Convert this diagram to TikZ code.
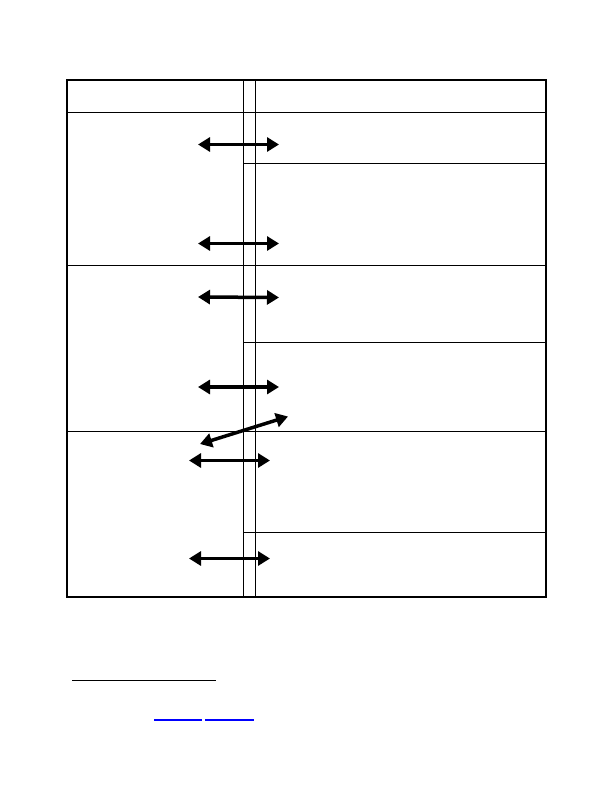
\documentclass[tikz,border=0pt]{standalone}
\usetikzlibrary{arrows.meta}
\begin{document}
\begin{tikzpicture}[x=1pt,y=-1pt,
  outer/.style={line width=1.6pt},
  rule/.style={line width=0.8pt},
  dblarrow/.style={line width=3.5pt,{Triangle[length=12pt,width=14pt]}-{Triangle[length=12pt,width=14pt]}},
  link/.style={line width=1.6pt,blue}]
\useasboundingbox[fill=white] (0,0) rectangle (612,792);
% inner rules
\draw[rule] (243,80) -- (243,597);
\draw[rule] (255,80) -- (255,597);
\draw[rule] (67,112.5) -- (546,112.5);
\draw[rule] (243,163.5) -- (546,163.5);
\draw[rule] (67,265) -- (546,265);
\draw[rule] (243,342) -- (546,342);
\draw[rule] (67,431) -- (546,431);
\draw[rule] (243,532.5) -- (546,532.5);
% outer frame
\draw[outer] (67,80) rectangle (546,597);
% arrows
\coordinate (a1l) at (198,144.5); \coordinate (a1r) at (279,144.5);
\coordinate (a2l) at (198,243.5); \coordinate (a2r) at (279,243.5);
\coordinate (a3l) at (198,297); \coordinate (a3r) at (279,297.5);
\coordinate (a4l) at (198,387); \coordinate (a4r) at (279,387);
\coordinate (a5l) at (200,444); \coordinate (a5r) at (288,416.5);
\coordinate (a6l) at (189,460.5); \coordinate (a6r) at (270,460.5);
\coordinate (a7l) at (189,558.5); \coordinate (a7r) at (270,558.5);
\draw[dblarrow] (a1l) -- (a1r);
\draw[dblarrow] (a2l) -- (a2r);
\draw[dblarrow] (a3l) -- (a3r);
\draw[dblarrow] (a4l) -- (a4r);
\draw[dblarrow] (a5l) -- (a5r);
\draw[dblarrow] (a6l) -- (a6r);
\draw[dblarrow] (a7l) -- (a7r);
% footnote rule
\draw[line width=1pt] (72,680.5) -- (216,680.5);
% link underlines
\draw[link] (154,720) -- (202,720);
\draw[link] (205,720) -- (254,720);
\end{tikzpicture}
\end{document}
